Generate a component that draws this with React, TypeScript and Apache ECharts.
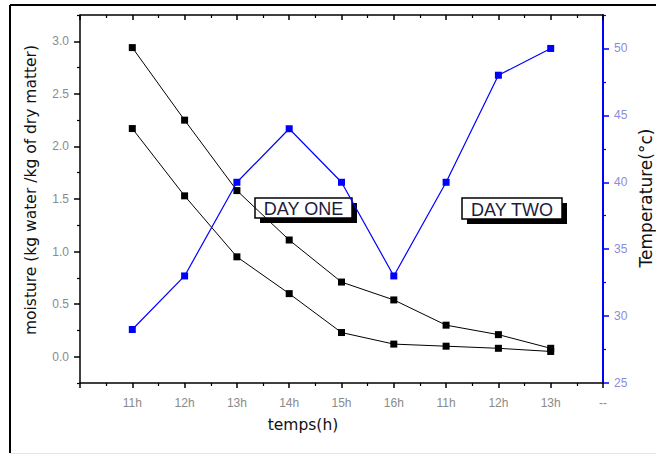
import React, { useEffect, useRef } from "react";
import * as echarts from "echarts";

const timeLabels = ["11h", "12h", "13h", "14h", "15h", "16h", "11h", "12h", "13h", "--"];
const moistureA = [2.94, 2.25, 1.58, 1.11, 0.71, 0.54, 0.3, 0.21, 0.08];
const moistureB = [2.17, 1.53, 0.95, 0.6, 0.23, 0.12, 0.1, 0.08, 0.05];
const temperature = [29, 33, 40, 44, 40, 33, 40, 48, 50];
const leftMajor = [0, 0.5, 1, 1.5, 2, 2.5, 3];
const leftMinor = [-0.25, 0.25, 0.75, 1.25, 1.75, 2.25, 2.75, 3.25];
const rightMajor = [25, 30, 35, 40, 45, 50];
const rightMinor = [27.5, 32.5, 37.5, 42.5, 47.5, 52.5];

const FONT = "Liberation Sans, Arial, sans-serif";
const NAME_FONT = "DejaVu Sans, Liberation Sans, sans-serif";

const toXY = (vals: number[]) => vals.map((v, i) => [i + 1, v]);

export default function App() {
  const ref = useRef<HTMLDivElement>(null);
  useEffect(() => {
    if (!ref.current) return;
    const chart = echarts.init(ref.current, null, { renderer: "svg" });
    const box = (x: number, y: number, w: number, h: number, label: string) => ({
      type: "group",
      x,
      y,
      children: [
        { type: "rect", shape: { x: 5, y: 5, width: w, height: h }, style: { fill: "#000" } },
        { type: "rect", shape: { x: 0, y: 0, width: w, height: h }, style: { fill: "#fff", stroke: "#000", lineWidth: 1.5 } },
        {
          type: "text",
          style: {
            x: w / 2,
            y: h / 2 + 1,
            text: label,
            fill: "#1c1c3c",
            font: `18px ${FONT}`,
            align: "center",
            verticalAlign: "middle",
          },
        },
      ],
    });
    const yCommon = {
      type: "value",
      splitLine: { show: false },
      offset: 0,
    };
    chart.setOption({
      animation: false,
      backgroundColor: "#fff",
      grid: { left: 80, top: 15, right: 53, bottom: 72, containLabel: false },
      xAxis: [
        {
          type: "value",
          min: 0,
          max: 10,
          interval: 1,
          position: "bottom",
          axisLine: { onZero: false, lineStyle: { color: "#000", width: 1.5 } },
          axisTick: { show: true, inside: false, length: 5, lineStyle: { color: "#000", width: 1.5 } },
          minorTick: { show: true, splitNumber: 2, length: 3, lineStyle: { color: "#000", width: 1.2 } },
          axisLabel: {
            color: "#8a8a8a",
            fontSize: 12,
            fontFamily: FONT,
            margin: 14,
            formatter: (v: number) => (v >= 1 && v <= timeLabels.length ? timeLabels[Math.round(v) - 1] : ""),
          },
          splitLine: { show: false },
        },
        {
          type: "value",
          min: 0,
          max: 10,
          interval: 1,
          position: "top",
          axisLine: { onZero: false, lineStyle: { color: "#000", width: 1.5 } },
          axisTick: { show: true, inside: true, length: 5, lineStyle: { color: "#000", width: 1.5 } },
          minorTick: { show: true, splitNumber: 2, length: 3, lineStyle: { color: "#000", width: 1.2 } },
          axisLabel: { show: false },
          splitLine: { show: false },
        },
      ],
      yAxis: [
        {
          ...yCommon,
          min: -0.25,
          max: 3.25,
          position: "left",
          axisLine: { show: true, onZero: false, lineStyle: { color: "#000", width: 1.5 } },
          axisTick: { show: true, length: 6, customValues: leftMajor, lineStyle: { color: "#000", width: 1.5 } },
          axisLabel: {
            customValues: leftMajor,
            color: "#8a8a8a",
            fontSize: 12,
            fontFamily: FONT,
            margin: 11,
            formatter: (v: number) => v.toFixed(1),
          },
        },
        {
          ...yCommon,
          min: 25,
          max: 52.5,
          position: "right",
          axisLine: { show: true, onZero: false, lineStyle: { color: "#0000ff", width: 2 } },
          axisTick: { show: true, length: 6, customValues: rightMajor, lineStyle: { color: "#0000ff", width: 1.5 } },
          axisLabel: {
            customValues: rightMajor,
            color: "#8c8cd8",
            fontSize: 12,
            fontFamily: FONT,
            margin: 11,
          },
        },
        {
          ...yCommon,
          min: -0.25,
          max: 3.25,
          position: "left",
          axisLine: { show: false, onZero: false },
          axisTick: { show: true, length: 3, customValues: leftMinor, lineStyle: { color: "#000", width: 1.2 } },
          axisLabel: { show: false },
        },
        {
          ...yCommon,
          min: 25,
          max: 52.5,
          position: "right",
          axisLine: { show: false, onZero: false },
          axisTick: { show: true, length: 3, customValues: rightMinor, lineStyle: { color: "#0000ff", width: 1.2 } },
          axisLabel: { show: false },
        },
      ],
      series: [
        {
          type: "line",
          xAxisIndex: 0,
          yAxisIndex: 0,
          data: toXY(moistureA),
          symbol: "rect",
          symbolSize: 7,
          itemStyle: { color: "#000" },
          lineStyle: { color: "#000", width: 1 },
        },
        {
          type: "line",
          xAxisIndex: 0,
          yAxisIndex: 0,
          data: toXY(moistureB),
          symbol: "rect",
          symbolSize: 7,
          itemStyle: { color: "#000" },
          lineStyle: { color: "#000", width: 1 },
        },
        {
          type: "line",
          xAxisIndex: 0,
          yAxisIndex: 1,
          data: toXY(temperature),
          symbol: "rect",
          symbolSize: 7,
          itemStyle: { color: "#0000ff" },
          lineStyle: { color: "#0000ff", width: 1.2 },
        },
      ],
      graphic: [
        { type: "line", shape: { x1: 10, y1: 5, x2: 656, y2: 5 }, style: { stroke: "#000", lineWidth: 2 } },
        { type: "line", shape: { x1: 10, y1: 5, x2: 10, y2: 453 }, style: { stroke: "#000", lineWidth: 2 } },
        { type: "line", shape: { x1: 10, y1: 453.5, x2: 656, y2: 453.5 }, style: { stroke: "#e4e4e4", lineWidth: 1 } },
        {
          type: "text",
          x: 31,
          y: 190,
          rotation: Math.PI / 2,
          style: {
            text: "moisture (kg water /kg of dry matter)",
            fill: "#111",
            font: `15.5px ${NAME_FONT}`,
            align: "center",
            verticalAlign: "middle",
          },
        },
        {
          type: "text",
          x: 646,
          y: 198,
          rotation: Math.PI / 2,
          style: {
            text: "Temperature(°c)",
            fill: "#111",
            font: `17px ${NAME_FONT}`,
            align: "center",
            verticalAlign: "middle",
          },
        },
        {
          type: "text",
          x: 303,
          y: 425,
          style: {
            text: "temps(h)",
            fill: "#111",
            font: `15.5px ${NAME_FONT}`,
            align: "center",
            verticalAlign: "middle",
          },
        },
        box(255, 198, 97, 20, "DAY ONE"),
        box(462, 198, 100, 21, "DAY TWO"),
      ],
    });
    return () => chart.dispose();
  }, []);
  return <div ref={ref} style={{ position: "fixed", left: 0, top: 0, width: 656, height: 455 }} />;
}
